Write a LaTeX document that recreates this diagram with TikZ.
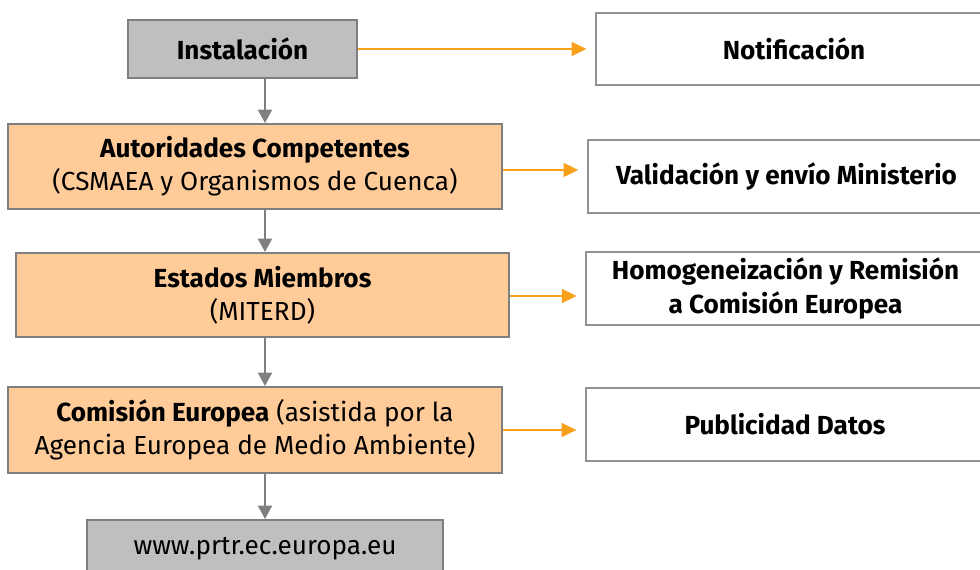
\documentclass[tikz,border=0pt]{standalone}
\usepackage{fontspec}
\setmainfont{Fira Sans}
\usetikzlibrary{arrows.meta}
\definecolor{boxgray}{HTML}{BFBFBF}
\definecolor{linegray}{HTML}{7F7F7F}
\definecolor{boxorange}{HTML}{FFCC99}
\definecolor{arrorange}{HTML}{F9A01B}
\tikzset{
  box/.style={draw=linegray, line width=1.5pt, rectangle, align=center, inner sep=0pt,
    font=\fontsize{19.6}{25}\selectfont},
  graybox/.style={box, fill=boxgray},
  orangebox/.style={box, fill=boxorange},
  whitebox/.style={box, fill=white, draw=linegray!85},
  orarrow/.style={draw=arrorange, line width=1.3pt, -{Triangle[length=11pt,width=10.5pt]}, shorten >=6.5pt},
  grarrow/.style={draw=linegray, line width=1.5pt, -{Triangle[length=10pt,width=10.5pt]}},
}
\begin{document}
\begin{tikzpicture}[x=0.75pt,y=-0.75pt]
\useasboundingbox (0,0) rectangle (980,570);
\clip (0,0) rectangle (980,570);
\node[graybox, minimum width=171.75pt, minimum height=43.5pt] (inst) at (242.5,49) {\textbf{Instalación}};
\node[whitebox, minimum width=297pt, minimum height=54pt] (notif) at (794,49) {\textbf{Notificación}};
\node[orangebox, minimum width=370.5pt, minimum height=63.75pt] (auto) at (255,166.5) {\textbf{Autoridades Competentes}\\(CSMAEA y Organismos de Cuenca)};
\node[whitebox, minimum width=298pt, minimum height=54.75pt] (valid) at (786.5,176.5) {\textbf{Validación y envío Ministerio}};
\node[orangebox, minimum width=369.75pt, minimum height=63pt] (estados) at (262.5,295) {\textbf{Estados Miembros}\\(MITERD)};
\node[whitebox, minimum width=299pt, minimum height=54.75pt] (homog) at (785.5,288.5) {\textbf{Homogeneización y Remisión}\\\textbf{a Comisión Europea}};
\node[orangebox, minimum width=370.5pt, minimum height=64.5pt] (comision) at (255,430) {\textbf{Comisión Europea} (asistida por la\\Agencia Europea de Medio Ambiente)};
\node[whitebox, minimum width=298.5pt, minimum height=54.75pt] (public) at (785,424.5) {\textbf{Publicidad Datos}};
\node[graybox, minimum width=267pt, minimum height=43.5pt] (www) at (265,549) {www.prtr.ec.europa.eu};
\draw[orarrow] (inst.east) -- (inst.east -| notif.west);
\draw[orarrow] ([yshift=-3.5*0.75pt]auto.east) -- ([yshift=-3.5*0.75pt]auto.east -| valid.west);
\draw[orarrow] ([yshift=-1*0.75pt]estados.east) -- ([yshift=-1*0.75pt]estados.east -| homog.west);
\draw[orarrow] (comision.east) -- (comision.east -| public.west);
\draw[grarrow] (inst.south -| www.north) -- (auto.north -| www.north);
\draw[grarrow] (auto.south -| www.north) -- (estados.north -| www.north);
\draw[grarrow] (estados.south -| www.north) -- (comision.north -| www.north);
\draw[grarrow] (comision.south -| www.north) -- (www.north);
\end{tikzpicture}
\end{document}
